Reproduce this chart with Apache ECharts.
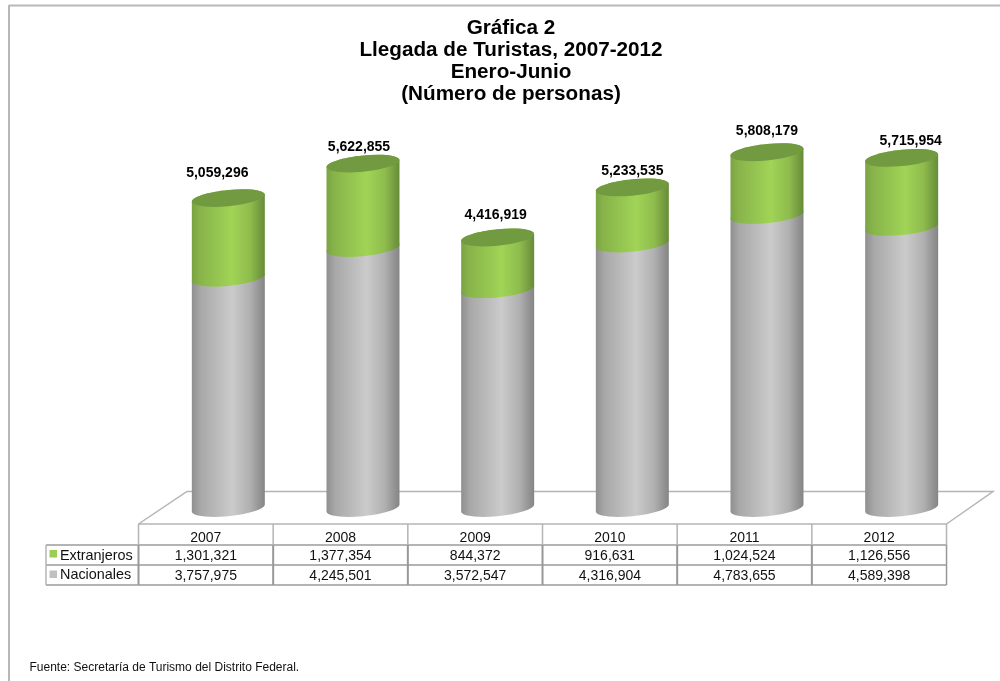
<!DOCTYPE html>
<html>
<head>
<meta charset="utf-8">
<style>html,body{margin:0;padding:0;background:#fff}#c{width:1000px;height:681px}</style>
<script src="https://cdn.jsdelivr.net/npm/echarts@6/dist/echarts.min.js"></script>
</head>
<body>
<div id="c"></div>
<script>
const categories = ['2007', '2008', '2009', '2010', '2011', '2012'];
const extranjeros = [1301321, 1377354, 844372, 916631, 1024524, 1126556];
const nacionales = [3757975, 4245501, 3572547, 4316904, 4783655, 4589398];
const seriesNames = ['Extranjeros', 'Nacionales'];
const titleLines = ['Gráfica 2', 'Llegada de Turistas, 2007-2012', 'Enero-Junio', '(Número de personas)'];
const sourceNote = 'Fuente: Secretaría de Turismo del Distrito Federal.';

const FONT = '"Liberation Sans", Arial, sans-serif';
const fmt = v => v.toLocaleString('en-US');
const labelNudge = [[-11, -25], [-4, -16], [-2, -22], [0, -16], [0, -21], [9, -17]];

function grad(stops) {
  return new echarts.graphic.LinearGradient(0, 0, 1, 0,
    stops.map(s => ({ offset: s[0], color: s[1] })));
}
const greenSide = () => grad([[0, '#7aa342'], [0.1, '#87b34a'], [0.55, '#a0d456'], [0.8, '#8fbc4d'], [0.93, '#759c40'], [1, '#668c38']]);
const graySide = () => grad([[0, '#8f8f8f'], [0.12, '#a8a8a8'], [0.55, '#cbcbcb'], [0.8, '#b0b0b0'], [0.93, '#939393'], [1, '#858585']]);

/* arcs of a sheared ellipse, so its left and right ends meet the cylinder's sides vertically */
function arcs(cx, y, a, s, ry) {
  const k = 0.5523;
  return {
    L: `${cx - a} ${y + s}`,
    R: `${cx + a} ${y - s}`,
    front: `C ${cx - a} ${y + s + k * ry} ${cx - k * a} ${y + ry + k * s} ${cx} ${y + ry} ` +
           `C ${cx + k * a} ${y + ry - k * s} ${cx + a} ${y - s + k * ry} ${cx + a} ${y - s}`,
    back: `C ${cx + a} ${y - s - k * ry} ${cx + k * a} ${y - ry - k * s} ${cx} ${y - ry} ` +
          `C ${cx - k * a} ${y - ry + k * s} ${cx - a} ${y + s - k * ry} ${cx - a} ${y + s}`
  };
}

function cylinder(isTop) {
  return function (params, api) {
    const i = api.value(0);
    const cx = api.coord([i, 0])[0];
    const y0 = api.coord([i, api.value(1)])[1];
    const y1 = api.coord([i, api.value(2)])[1];
    const a = api.size([1, 0])[0] * 0.271, s = 3.5, ry = 8.2;
    const top = arcs(cx, y1, a, s, ry), bot = arcs(cx, y0, a, s, ry);
    const side = `M ${top.L} L ${bot.L} ${bot.front} L ${top.R} ${top.back} Z`;
    const children = [{
      type: 'path',
      shape: { pathData: side },
      style: { fill: isTop ? greenSide() : graySide() }
    }];
    if (isTop) {
      children.push({
        type: 'path',
        shape: { pathData: `M ${top.L} ${top.front} ${top.back} Z` },
        style: { fill: '#729a40' }
      });
      children.push({
        type: 'text',
        style: {
          text: fmt(api.value(2)),
          x: cx + labelNudge[i][0],
          y: y1 + labelNudge[i][1],
          textAlign: 'center',
          textVerticalAlign: 'middle',
          fill: '#000',
          font: 'bold 14px ' + FONT
        }
      });
    }
    return { type: 'group', children };
  };
}

/* table + floor + frame */
const lineColor = '#b4b4b4', darkLine = '#989898';
const tX0 = 138.5, tStep = 134.67, legX = 46, yA = 524, yB = 545, yC = 565, yD = 585;
const tX1 = tX0 + tStep * categories.length;
const g = [];
function line(x1, y1, x2, y2, color, w) {
  g.push({ type: 'line', silent: true, shape: { x1, y1, x2, y2 }, style: { stroke: color, lineWidth: w || 1.5 } });
}
function text(t, x, y, font, align, fill) {
  g.push({ type: 'text', silent: true, x, y, style: { text: t, font, fill: fill || '#111', textAlign: align || 'center', textVerticalAlign: 'middle' } });
}
line(9, 5.5, 1000, 5.5, '#b8b8b8', 2);
line(9, 5, 9, 681, '#b8b8b8', 2);
g.push({ type: 'polyline', silent: true, shape: { points: [[tX0, yA], [187, 491.5], [993, 491.5], [tX1, yA]] }, style: { stroke: lineColor, fill: 'none', lineWidth: 1.5 } });
line(tX0, yA, tX1, yA, lineColor);
line(legX, yB, tX1, yB, lineColor, 2);
line(legX, yC, tX1, yC, darkLine);
line(legX, yD, tX1, yD, lineColor, 2);
line(legX, yB, legX, yD, lineColor);
for (let i = 0; i <= categories.length; i++) {
  const x = tX0 + tStep * i;
  line(x, yA, x, yB, lineColor);
  line(x, yB, x, yD, darkLine, (i === categories.length) ? 1.5 : 2);
}
categories.forEach((c, i) => {
  const x = tX0 + tStep * (i + 0.5);
  text(c, x, 538, '14px ' + FONT);
  text(fmt(extranjeros[i]), x, 556, '14px ' + FONT);
  text(fmt(nacionales[i]), x, 576, '14px ' + FONT);
});
g.push({ type: 'rect', silent: true, shape: { x: 49.5, y: 550, width: 7.5, height: 7.5 }, style: { fill: '#9bcf53' } });
g.push({ type: 'rect', silent: true, shape: { x: 49.5, y: 570.5, width: 7.5, height: 7.5 }, style: { fill: '#c0c0c0' } });
text(seriesNames[0], 60, 556, '14.4px ' + FONT, 'left');
text(seriesNames[1], 60, 575.5, '14.4px ' + FONT, 'left');
text(sourceNote, 29.5, 668, '12px ' + FONT, 'left');
text(titleLines.join('\n'), 511, 61.5, 'bold 20.7px ' + FONT, 'center', '#000');
g[g.length - 1].style.lineHeight = 22;

const chart = echarts.init(document.getElementById('c'), null, { renderer: 'canvas' });
chart.setOption({
  animation: false,
  backgroundColor: '#fff',
  graphic: { elements: g },
  grid: { left: 161, width: 808, top: 140.5, height: 367.5 },
  xAxis: { type: 'category', data: categories, show: false },
  yAxis: { type: 'value', min: 0, max: 6000000, show: false },
  series: [
    {
      name: seriesNames[1], type: 'custom', z: 5, clip: false,
      renderItem: cylinder(false),
      encode: { x: 0, y: 2 },
      data: nacionales.map((v, i) => [i, 0, v])
    },
    {
      name: seriesNames[0], type: 'custom', z: 6, clip: false,
      renderItem: cylinder(true),
      encode: { x: 0, y: 2 },
      data: extranjeros.map((v, i) => [i, nacionales[i], nacionales[i] + v])
    }
  ]
});
</script>
</body>
</html>
